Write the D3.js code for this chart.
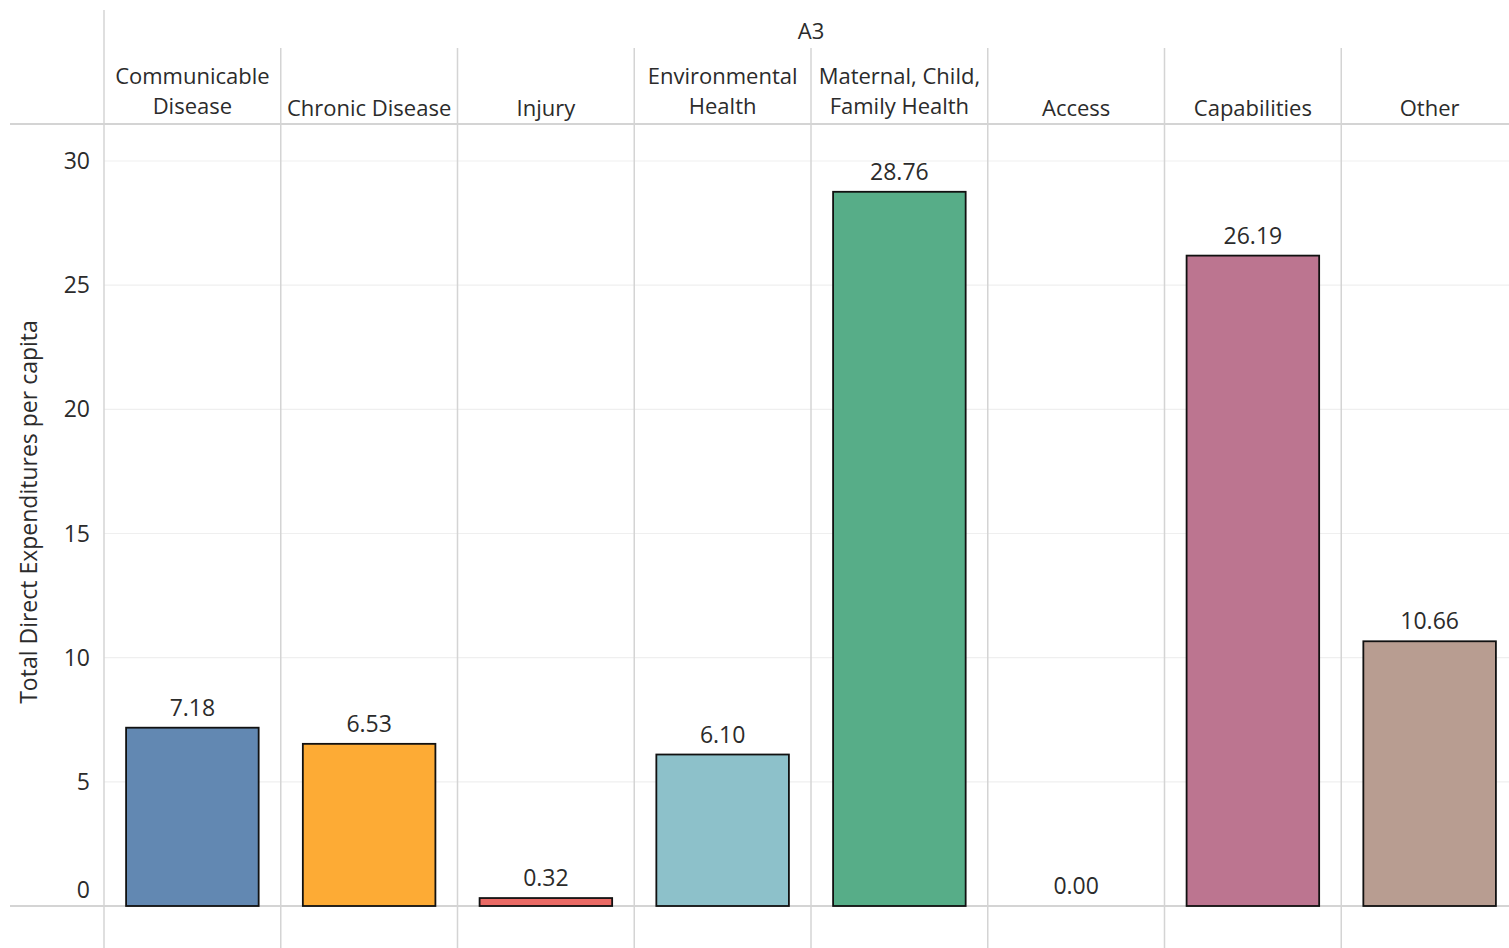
<!DOCTYPE html>
<html>
<head>
<meta charset="utf-8">
<script src="https://cdn.jsdelivr.net/npm/d3@7"></script>
<style>
  html, body { margin: 0; padding: 0; background: #fff; }
  svg { display: block; }
  text { font-family: "Open Sans", "DejaVu Sans", sans-serif; fill: #2b2b2b; }
</style>
</head>
<body>
<svg id="chart" width="1509" height="948"></svg>
<script>
// Category headers (line-broken as shown in the column header row)
const categories = [
  "Communicable Disease",
  "Chronic Disease",
  "Injury",
  "Environmental Health",
  "Maternal, Child, Family Health",
  "Access",
  "Capabilities",
  "Other"
];
const headerLines = [
  ["Communicable", "Disease"],
  ["Chronic Disease"],
  ["Injury"],
  ["Environmental", "Health"],
  ["Maternal, Child,", "Family Health"],
  ["Access"],
  ["Capabilities"],
  ["Other"]
];
const values = [7.18, 6.53, 0.32, 6.10, 28.76, 0.00, 26.19, 10.66];
const colors = ["#6288b2", "#fdab35", "#ea6a65", "#8dc1ca", "#57ad88", "#9c755f", "#bc7590", "#b89d91"];
const yTicks = [0, 5, 10, 15, 20, 25, 30];
const groupTitle = "A3";
const yTitle = "Total Direct Expenditures per capita";

const svg = d3.select("#chart");
const W = 1509, H = 948;

const x = d3.scaleBand().domain(categories).range([104, 1518]).padding(0);
const y = d3.scaleLinear().domain([0, 30]).range([906, 161]);
const bw = x.bandwidth();
const barInset = bw * 0.125;

// Gridlines
svg.append("g")
  .selectAll("line")
  .data(yTicks.filter(d => d > 0))
  .join("line")
  .attr("x1", 104).attr("x2", W)
  .attr("y1", d => y(d)).attr("y2", d => y(d))
  .attr("stroke", "#efefef").attr("stroke-width", 1.2);

// Column dividers
svg.append("g")
  .selectAll("line")
  .data(categories.slice(1))
  .join("line")
  .attr("x1", d => x(d)).attr("x2", d => x(d))
  .attr("y1", 48).attr("y2", H)
  .attr("stroke", "#d4d4d4").attr("stroke-width", 1.5);

// Left pane border
svg.append("line")
  .attr("x1", 104).attr("x2", 104).attr("y1", 10).attr("y2", H)
  .attr("stroke", "#d4d4d4").attr("stroke-width", 1.5);

// Header bottom and zero line
[124, y(0)].forEach(yy => {
  svg.append("line")
    .attr("x1", 10).attr("x2", W).attr("y1", yy).attr("y2", yy)
    .attr("stroke", "#d4d4d4").attr("stroke-width", 2);
});

// Bars
svg.append("g")
  .selectAll("rect")
  .data(categories.map((c, i) => ({ c, v: values[i], col: colors[i] })).filter(d => d.v > 0))
  .join("rect")
  .attr("x", d => x(d.c) + barInset)
  .attr("width", bw - 2 * barInset)
  .attr("y", d => y(d.v))
  .attr("height", d => y(0) - y(d.v))
  .attr("fill", d => d.col)
  .attr("stroke", "#111").attr("stroke-width", 1.8);

// Value labels
svg.append("g")
  .selectAll("text")
  .data(categories.map((c, i) => ({ c, v: values[i] })))
  .join("text")
  .attr("x", d => x(d.c) + bw / 2)
  .attr("y", d => y(d.v) - 12)
  .attr("text-anchor", "middle")
  .attr("font-size", 23)
  .text(d => d.v.toFixed(2));

// Y axis tick labels
svg.append("g")
  .selectAll("text")
  .data(yTicks)
  .join("text")
  .attr("x", 90)
  .attr("y", d => d === 0 ? y(d) - 16 : y(d))
  .attr("dy", "0.35em")
  .attr("text-anchor", "end")
  .attr("font-size", 23)
  .text(d => d);

// Y axis title
svg.append("text")
  .attr("transform", `translate(37, 512) rotate(-90)`)
  .attr("text-anchor", "middle")
  .attr("font-size", 23)
  .text(yTitle);

// Group title
svg.append("text")
  .attr("x", (104 + 1518) / 2).attr("y", 31)
  .attr("dy", "0.35em")
  .attr("text-anchor", "middle")
  .attr("font-size", 22)
  .text(groupTitle);

// Column headers
const hdr = svg.append("g")
  .selectAll("text")
  .data(categories.map((c, i) => ({ c, lines: headerLines[i] })))
  .join("text")
  .attr("text-anchor", "middle")
  .attr("font-size", 22);
hdr.each(function(d) {
  const t = d3.select(this);
  const n = d.lines.length;
  d.lines.forEach((ln, k) => {
    t.append("tspan")
      .attr("x", x(d.c) + bw / 2)
      .attr("y", n === 1 ? 108 : 76 + k * 30)
      .attr("dy", "0.35em")
      .text(ln);
  });
});
</script>
</body>
</html>
